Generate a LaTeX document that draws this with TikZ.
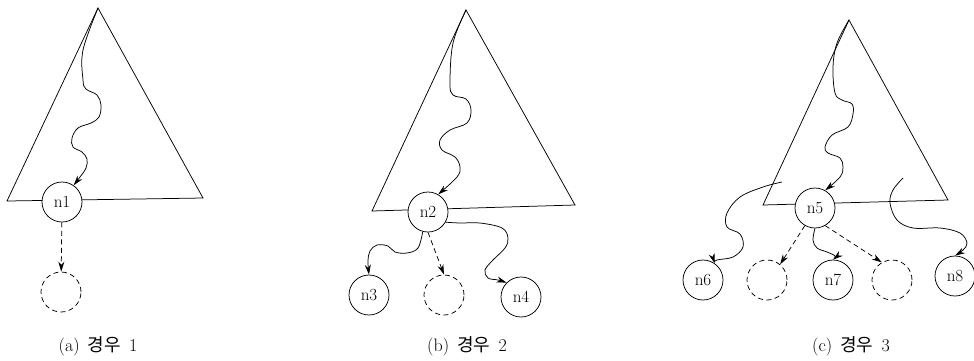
\documentclass[tikz,border=0pt]{standalone}
\usepackage{fontspec}
\newfontfamily\korfont{Noto Sans CJK KR}
\usetikzlibrary{arrows.meta, positioning}

\begin{document}
\begin{tikzpicture}[
    x=1pt, y=-1pt, line width=0.75pt,
    treenode/.style={circle, draw, fill=white, minimum size=40pt, inner sep=0pt, font=\fontsize{17}{17}\selectfont},
    ghostnode/.style={circle, draw, dash pattern=on 5pt off 3.5pt, minimum size=40pt, inner sep=0pt},
    wave/.style={-{Stealth[length=10pt,width=6pt]}},
    guess/.style={-{Stealth[length=10pt,width=6pt]}, dash pattern=on 5pt off 3.5pt},
    caption/.style={font=\fontsize{18}{18}\selectfont}
]
\useasboundingbox (0,0) rectangle (974,360);

% (a) case 1
\coordinate (topA) at (98,8);
\draw (topA) -- (7,201) -- (203,198) -- cycle;
\node[treenode] (n1) at (62,202) {n1};
\node[ghostnode] (g1) at (61,292) {};
\draw[wave] plot[smooth, tension=0.6] coordinates {(topA) (83,50) (83,80) (86,89) (97,95) (101,105) (99,117) (91,123) (78,128) (72,138) (73,147) (82,152) (87,159) (86,168) (80,177) (n1.55)};
\draw[guess] (n1) -- (g1);
\node[caption] (capA) at (98,346) {(a)\hspace{0.45em}{\korfont 경우}\hspace{0.45em}1};

% (b) case 2
\coordinate (topB) at (466,10);
\draw (topB) -- (372,211) -- (575,205) -- cycle;
\node[treenode] (n2) at (428,212) {n2};
\node[treenode] (n3) at (369,295) {n3};
\node[ghostnode] (g2) at (444,295) {};
\node[treenode] (n4) at (521,297) {n4};
\draw[wave] plot[smooth, tension=0.6] coordinates {(topB) (453,43) (450,83) (453,95) (466,99) (471,110) (467,123) (450,130) (440,140) (442,150) (455,157) (460,167) (457,177) (n2.60)};
\draw[wave] plot[smooth, tension=0.6] coordinates {(n2.255) (418,248) (407,253) (395,252) (388,246) (377,245) (370,251) (368,261) (n3.north)};
\draw[wave] plot[smooth, tension=0.6] coordinates {(n2.-30) (460,223) (480,223) (502,228) (508,238) (505,248) (493,260) (485,270) (488,278) (498,280) (n4.135)};
\draw[guess] (n2.south) -- (g2.north);
\node[caption] (capB) at (467,346) {(b)\hspace{0.45em}{\korfont 경우}\hspace{0.45em}2};

% (c) case 3
\coordinate (topC) at (849,20);
\draw (topC) -- (763,205) -- (948,200) -- cycle;
\node[treenode] (n5) at (815,208) {n5};
\node[treenode] (n6) at (703,280) {n6};
\node[ghostnode] (g3) at (767,280) {};
\node[treenode] (n7) at (833,280) {n7};
\node[ghostnode] (g4) at (892,280) {};
\node[treenode] (n8) at (955,276) {n8};
\coordinate (s6) at (782,182);
\coordinate (s8) at (903,178);
\draw[wave] plot[smooth, tension=0.6] coordinates {(topC) (837,43) (833,67) (835,93) (842,100) (852,104) (853,114) (848,127) (832,135) (825,147) (828,153) (840,158) (843,167) (840,177) (n5.60)};
\draw[wave] plot[smooth, tension=0.6] coordinates {(s6) (763,187) (740,197) (727,213) (727,227) (740,234) (743,247) (733,257) (717,260) (n6.55)};
\draw[wave] plot[smooth, tension=0.6] coordinates {(s8) (893,190) (890,203) (897,220) (913,228) (940,228) (960,233) (967,243) (963,250) (n8.north)};
\draw[wave] plot[smooth, tension=0.6] coordinates {(n5.south) (813,240) (817,248) (827,252) (835,256) (n7.north)};
\draw[guess] (n5.240) -- (g3.50);
\draw[guess] (n5.-60) -- (g4.120);
\node[caption] (capC) at (851,346) {(c)\hspace{0.45em}{\korfont 경우}\hspace{0.45em}3};
\end{tikzpicture}
\end{document}
